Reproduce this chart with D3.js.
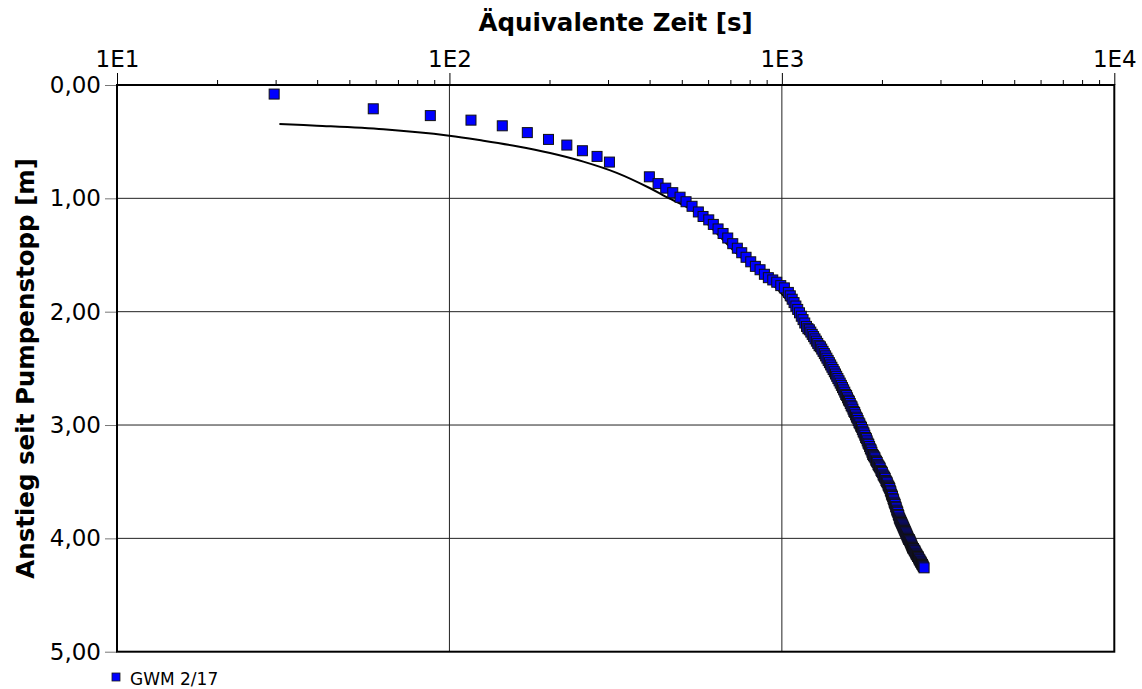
<!DOCTYPE html>
<html>
<head>
<meta charset="utf-8">
<script src="https://cdn.jsdelivr.net/npm/d3@7"></script>
<style>
  html, body { margin: 0; padding: 0; background: #fff; }
  svg { display: block; font-family: "DejaVu Sans", Verdana, sans-serif; }
</style>
</head>
<body>
<svg id="chart" width="1142" height="689"></svg>
<script>
// ---- data ----
const xTitle = "Äquivalente Zeit [s]";
const yTitle = "Anstieg seit Pumpenstopp [m]";
const seriesName = "GWM 2/17";

const xTickValues = [10, 100, 1000, 10000];
const xTickLabels = ["1E1", "1E2", "1E3", "1E4"];
const yTickValues = [0, 1, 2, 3, 4, 5];
const yTickLabels = ["0,00", "1,00", "2,00", "3,00", "4,00", "5,00"];

// observed recovery (equivalent time [s], rise [m])
const obsTime = [
  29.7, 59.0, 87.6, 116.1, 144.2, 171.5, 198.6, 225.5, 251.2, 278.0, 302.9,
  399.4, 424.2, 447.4, 469.7, 494.0, 515.0, 536.8, 560.8, 579.3, 602.7, 622.1, 642.8, 665.5, 687.4,
  711.7, 734.6, 757.4, 780.3, 806.0, 832.4, 859.8, 886.0, 910.7, 938.9, 965.1, 992.4, 1017.4, 1046,
  1060, 1074, 1088, 1102, 1116, 1130, 1144, 1158, 1172, 1186,
  1198, 1210, 1222, 1234, 1246, 1258, 1270, 1282, 1294, 1306, 1318, 1330, 1342, 1354, 1366,
  1378, 1390, 1402, 1414, 1426, 1438, 1450, 1462, 1474, 1486, 1498, 1510, 1522, 1534, 1546,
  1556, 1566, 1576, 1586, 1596, 1606, 1616, 1626, 1636, 1646, 1656, 1666, 1676, 1686, 1696, 1706, 1716, 1726,
  1736, 1746, 1756, 1766, 1776, 1786, 1796, 1806, 1816, 1826, 1836, 1846, 1856, 1866,
  1876, 1886, 1896, 1906, 1916, 1926, 1936, 1946, 1956, 1966, 1976, 1986, 1996, 2006, 2016, 2026, 2036, 2046, 2056, 2066, 2076, 2086, 2096,
  2104, 2112, 2120, 2128, 2136, 2144, 2152, 2160, 2168, 2176, 2184, 2192, 2200, 2208, 2216, 2224, 2232, 2240, 2248, 2256, 2264,
  2272, 2280, 2288, 2296, 2304, 2312, 2320, 2328, 2336, 2344, 2352, 2360, 2368, 2376, 2384, 2392, 2400, 2408, 2416, 2424, 2432, 2440, 2448, 2456, 2464,
  2472, 2480, 2488, 2496, 2504, 2512, 2520, 2528, 2536, 2544, 2552, 2560, 2568, 2576, 2584, 2592, 2600, 2608, 2616, 2624, 2632, 2640, 2648, 2656, 2664, 2678
];
const obsRise = [
  0.08, 0.21, 0.27, 0.31, 0.36, 0.42, 0.48, 0.53, 0.58, 0.63, 0.68,
  0.81, 0.87, 0.91, 0.95, 0.99, 1.03, 1.07, 1.12, 1.16, 1.19, 1.23, 1.27, 1.31, 1.35,
  1.40, 1.44, 1.48, 1.52, 1.56, 1.60, 1.63, 1.67, 1.70, 1.72, 1.74, 1.77, 1.79, 1.83,
  1.86, 1.89, 1.92, 1.95, 1.98, 2.01, 2.04, 2.07, 2.10, 2.13,
  2.15, 2.16, 2.18, 2.20, 2.22, 2.24, 2.26, 2.28, 2.30, 2.31, 2.33, 2.35, 2.37, 2.39, 2.41,
  2.43, 2.45, 2.47, 2.49, 2.51, 2.53, 2.55, 2.57, 2.59, 2.61, 2.63, 2.65, 2.67, 2.69, 2.71,
  2.73, 2.74, 2.76, 2.78, 2.79, 2.81, 2.83, 2.84, 2.86, 2.88, 2.89, 2.91, 2.93, 2.94, 2.96, 2.98, 2.99, 3.01,
  3.02, 3.04, 3.06, 3.07, 3.09, 3.11, 3.12, 3.14, 3.16, 3.17, 3.19, 3.21, 3.22, 3.24,
  3.26, 3.27, 3.28, 3.29, 3.31, 3.32, 3.33, 3.35, 3.36, 3.37, 3.38, 3.40, 3.41, 3.42, 3.44, 3.45, 3.46, 3.47, 3.49, 3.50, 3.51, 3.53, 3.54,
  3.55, 3.56, 3.58, 3.59, 3.61, 3.62, 3.63, 3.65, 3.66, 3.68, 3.69, 3.70, 3.72, 3.73, 3.75, 3.76, 3.77, 3.79, 3.80, 3.82, 3.83,
  3.84, 3.85, 3.86, 3.87, 3.88, 3.89, 3.90, 3.91, 3.92, 3.93, 3.94, 3.95, 3.96, 3.97, 3.98, 3.99, 4.00, 4.01, 4.01, 4.02, 4.03, 4.04, 4.05, 4.06, 4.07,
  4.08, 4.09, 4.09, 4.10, 4.11, 4.11, 4.12, 4.13, 4.14, 4.14, 4.15, 4.16, 4.16, 4.17, 4.18, 4.19, 4.19, 4.20, 4.21, 4.21, 4.22, 4.23, 4.23, 4.24, 4.25, 4.26
];

// fitted curve
const fitTime = [30.8, 39.9, 63.3, 99.9, 126.5, 159.4, 200.8, 252.8, 318.6, 401.5, 445.4, 540.6, 723.0, 987.6,
                 1174, 1363, 1534, 1714, 1850, 2073, 2237, 2431, 2641];
const fitRise = [0.344, 0.359, 0.391, 0.447, 0.491, 0.540, 0.600, 0.676, 0.775, 0.911, 0.983, 1.111, 1.473, 1.825,
                 2.134, 2.425, 2.716, 3.016, 3.245, 3.545, 3.836, 4.074, 4.259];

// ---- layout ----
const svg = d3.select("#chart");
const L = 117, R = 1114.3, T = 85, B = 651.7;

const x = d3.scaleLog().domain([10, 10000]).range([L, R]);
const y = d3.scaleLinear().domain([0, 5]).range([T, B]);

const obs = obsTime.map((t, i) => ({ t, s: obsRise[i] }));
const fit = fitTime.map((t, i) => ({ t, s: fitRise[i] }));

// gridlines
const grid = svg.append("g");
grid.selectAll("line.vx").data(xTickValues.slice(1, -1)).enter().append("line")
  .attr("x1", d => x(d)).attr("x2", d => x(d)).attr("y1", T).attr("y2", B)
  .attr("stroke", "#222").attr("stroke-width", 1);
grid.selectAll("line.hy").data(yTickValues.slice(1, -1)).enter().append("line")
  .attr("x1", L).attr("x2", R).attr("y1", d => y(d)).attr("y2", d => y(d))
  .attr("stroke", "#222").attr("stroke-width", 1);

// x axis (top): minor ticks
const minor = x.ticks().filter(v => !xTickValues.includes(v));
const xMinor = svg.append("g").attr("transform", `translate(0,${T})`)
  .call(d3.axisTop(x).tickValues(minor).tickSize(5).tickFormat("").tickSizeOuter(0));
xMinor.select(".domain").remove();
xMinor.selectAll("line").attr("stroke", "#000");

// x axis (top): major ticks and labels
const xMajor = svg.append("g").attr("transform", `translate(0,${T})`)
  .call(d3.axisTop(x).tickValues(xTickValues).tickSize(12).tickSizeOuter(0)
    .tickFormat((d, i) => xTickLabels[i]));
xMajor.select(".domain").remove();
xMajor.selectAll("line").attr("stroke", "#000");
xMajor.selectAll("text").attr("font-size", "23px").attr("fill", "#000")
  .attr("font-family", "DejaVu Sans").attr("dy", "-0.15em");

// y axis (left)
const yAx = svg.append("g").attr("transform", `translate(${L},0)`)
  .call(d3.axisLeft(y).tickValues(yTickValues).tickSize(12).tickSizeOuter(0)
    .tickFormat((d, i) => yTickLabels[i]));
yAx.select(".domain").remove();
yAx.selectAll("line").attr("stroke", "#777");
yAx.selectAll("text").attr("font-size", "23px").attr("fill", "#000")
  .attr("font-family", "DejaVu Sans").attr("x", -16);

// plot frame
svg.append("rect").attr("x", L).attr("y", T).attr("width", R - L).attr("height", B - T)
  .attr("fill", "none").attr("stroke", "#000").attr("stroke-width", 2);

// fitted line
svg.append("path").datum(fit)
  .attr("d", d3.line().x(d => x(d.t)).y(d => y(d.s)).curve(d3.curveCatmullRom.alpha(0.5)))
  .attr("fill", "none").attr("stroke", "#000").attr("stroke-width", 2);

// observed points
const ms = 10;
svg.append("g").selectAll("rect").data(obs).enter().append("rect")
  .attr("x", d => x(d.t) - ms / 2).attr("y", d => y(d.s) - ms / 2)
  .attr("width", ms).attr("height", ms)
  .attr("fill", "#0000ff").attr("stroke", "#111").attr("stroke-width", 1);

// titles
svg.append("text").attr("x", (L + R) / 2).attr("y", 30.5).attr("text-anchor", "middle")
  .attr("font-size", "24.5px").attr("font-weight", "bold").text(xTitle);
svg.append("text").attr("transform", `translate(34,${(T + B) / 2}) rotate(-90)`)
  .attr("text-anchor", "middle").attr("font-size", "24.5px").attr("font-weight", "bold").text(yTitle);

// legend
const lg = svg.append("g");
lg.append("rect").attr("x", 112).attr("y", 673).attr("width", 8).attr("height", 8)
  .attr("fill", "#0000ff").attr("stroke", "#1a1a1a").attr("stroke-width", 0.8);
lg.append("text").attr("x", 130).attr("y", 685).attr("font-size", "17px").attr("fill", "#000").text(seriesName);
</script>
</body>
</html>
